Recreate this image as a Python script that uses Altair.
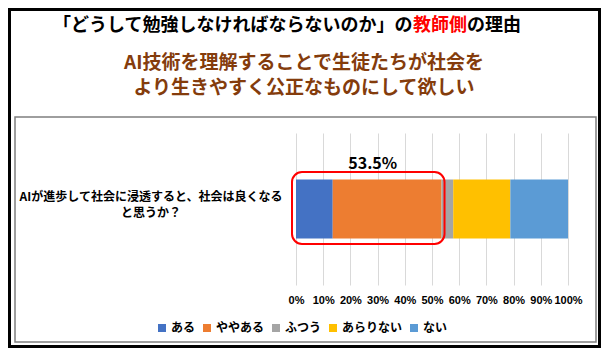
import altair as alt
import pandas as pd

# ---- data ----
categories = ["ある", "ややある", "ふつう", "あらりない", "ない"]
values = [13.5, 40.0, 4.3, 21.0, 21.2]
colors = ["#4472C4", "#ED7D31", "#A5A5A5", "#FFC000", "#5B9BD5"]
question_lines = ["AIが進歩して社会に浸透すると、社会は良くなる", "と思うか？"]
question = "".join(question_lines)
x_ticks = [0, 10, 20, 30, 40, 50, 60, 70, 80, 90, 100]
title_parts = ["「どうして勉強しなければならないのか」の", "教師側", "の理由"]
title_colors = ["#000000", "#FF0000", "#000000"]
subtitle_lines = ["AI技術を理解することで生徒たちが社会を", "より生きやすく公正なものにして欲しい"]

highlight_end = values[0] + values[1]
highlight_label = f"{highlight_end:.1f}%"

JP = "Noto Sans CJK JP"

df = pd.DataFrame({
    "cat": categories,
    "value": values,
    "idx": list(range(len(categories))),
    "q": [question] * len(categories),
})

# plot-area geometry (canvas = 593 x 340)
W, H = 272, 152
PAD = {"left": 288, "top": 125, "right": 593 - 288 - W, "bottom": 340 - 125 - H}

x_axis = alt.Axis(values=x_ticks, labelExpr="datum.value + '%'", domain=False, ticks=False,
                  grid=True, gridColor="#D9D9D9", gridWidth=1, tickCount=11,
                  labelFont="Liberation Sans", labelFontWeight="bold", labelFlush=False,
                  labelFontSize=11, labelColor="#000000", labelPadding=9, labelOverlap=False)
x_scale = alt.Scale(domain=[0, 100], nice=False)

one = pd.DataFrame({"d": [0]})

outer = alt.Chart(one).mark_rect(fillOpacity=0, stroke="#000000", strokeWidth=3).encode(
    x=alt.value(-PAD["left"] + 1.5), x2=alt.value(W + PAD["right"] - 1.5),
    y=alt.value(-PAD["top"] + 1.5), y2=alt.value(H + PAD["bottom"] - 1.5),
)
inner = alt.Chart(one).mark_rect(fillOpacity=0, stroke="#7F7F7F", strokeWidth=1.5).encode(
    x=alt.value(-281), x2=alt.value(300), y=alt.value(-16), y2=alt.value(209),
)

bars = alt.Chart(df).mark_bar(size=59).encode(
    x=alt.X("value:Q", stack="zero", title=None, scale=x_scale, axis=x_axis),
    y=alt.Y("q:N", axis=None),
    color=alt.Color("cat:N", scale=alt.Scale(domain=categories, range=colors),
                    legend=alt.Legend(orient="none", legendX=-140, legendY=189, direction="horizontal",
                                      title=None, symbolType="square", symbolSize=64,
                                      symbolStrokeWidth=0, labelFont=JP, labelFontWeight="bold",
                                      labelFontSize=12, labelColor="#000000", columnPadding=5,
                                      labelOffset=3)),
    order=alt.Order("idx:Q"),
)

hl_df = pd.DataFrame({"start": [0.0], "end": [highlight_end], "label": [highlight_label],
                      "mid": [highlight_end / 2]})
hl_rect = alt.Chart(hl_df).mark_rect(fillOpacity=0, stroke="#FF0000", strokeWidth=2,
                                     cornerRadius=10, xOffset=-4, x2Offset=3).encode(
    x=alt.X("start:Q", title=None, scale=x_scale, axis=x_axis), x2="end:Q",
    y=alt.value(39), y2=alt.value(111),
)
hl_text = alt.Chart(hl_df).mark_text(font=JP, fontWeight="bold", fontSize=16, color="#000000",
                                     baseline="middle", dx=4).encode(
    x=alt.X("mid:Q", title=None, scale=x_scale, axis=x_axis), y=alt.value(31), text="label:N",
)

q_layers = []
for line, dy in zip(question_lines, [-12, 4]):
    q_layers.append(
        alt.Chart(pd.DataFrame({"q": [question], "t": [line]})).mark_text(
            font=JP, fontWeight="bold", fontSize=12, color="#000000", align="center",
            baseline="middle", dy=dy).encode(
            x=alt.value(-145), y=alt.Y("q:N", axis=None), text="t:N")
    )

TFS = 18
offs = [0, len(title_parts[0]) * TFS, (len(title_parts[0]) + len(title_parts[1])) * TFS]
title_layers = []
for part, col, off in zip(title_parts, title_colors, offs):
    title_layers.append(
        alt.Chart(pd.DataFrame({"t": [part]})).mark_text(
            font=JP, fontWeight="bold", fontSize=TFS, color=col, align="left", baseline="middle").encode(
            x=alt.value(-243 + off), y=alt.value(-107), text="t:N")
    )

sub_layers = []
for line, yy in zip(subtitle_lines, [-70, -45]):
    sub_layers.append(
        alt.Chart(pd.DataFrame({"t": [line]})).mark_text(
            font=JP, fontWeight="bold", fontSize=19, color="#843C0C", align="center", baseline="middle").encode(
            x=alt.value(8), y=alt.value(yy), text="t:N")
    )

chart = alt.layer(outer, inner, bars, hl_rect, hl_text, *q_layers, *title_layers, *sub_layers).properties(
    width=W, height=H,
    autosize=alt.AutoSizeParams(type="none"),
    padding=PAD,
    background="#FFFFFF",
).configure_view(stroke=None)

chart.save("out.html", embed_options={"renderer": "svg", "actions": False})
